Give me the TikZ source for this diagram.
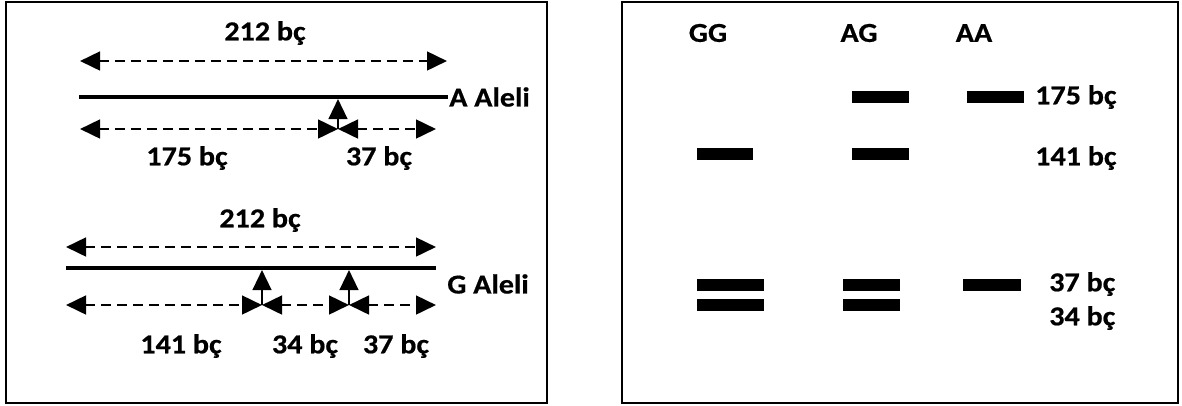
\documentclass[tikz,border=0pt]{standalone}
\usepackage{fontspec}
\setmainfont{Carlito}[FakeStretch=1.1, BoldFeatures={FakeBold=0.6}]
\usepackage{tikz}
\usetikzlibrary{arrows.meta}
\usetikzlibrary{positioning}
\tikzset{head/.tip={Triangle[length=15pt,width=14pt]},
  lbl/.style={font=\bfseries\fontsize{20.5}{24}\selectfont, inner sep=0pt},
  dna/.style={line width=3pt},
  dim/.style={head-head, line width=2pt, dash pattern=on 7pt off 5pt},
  cut/.style={-head, line width=1.8pt},
  frame/.style={line width=1.2pt},
  band/.style={fill=black}}

\begin{document}
\begin{tikzpicture}[x=0.75pt,y=-0.75pt]

    \useasboundingbox (0,0) rectangle (1182,405);

    % two panels
    \draw [frame] (6,2) rectangle (547,403);
    \draw [frame] (622,2) rectangle (1178,403);

    % A allele
    \coordinate (a1) at (79,97);
    \coordinate (a2) at (448,97);
    \coordinate (acut) at (338,99);
    \coordinate (ad0) at (80,129);
    \coordinate (ad1) at (338,129);
    \coordinate (ad2) at (436,129);

	\draw [dna] (a1) -- (a2);
	\draw [dim] (80,61) coordinate (at0) -- (447,61) coordinate (at1);
	\draw [dim] (ad0) -- (ad1);
	\draw [dim] (ad1) -- (ad2);
	\draw [cut] (ad1) -- (acut);

	\node [lbl] (a212) at (265,33) {212 bç};
	\node [lbl, anchor=west] (aname) at (449,97) {A Aleli};
	\node [lbl] (a175) at (187,158) {175 bç};
	\node [lbl] (a37) at (379,158) {37 bç};

    % G allele
    \coordinate (g1) at (66,268);
    \coordinate (g2) at (436,268);
    \coordinate (gcut1) at (262,270);
    \coordinate (gcut2) at (349,270);
    \coordinate (gd0) at (66,305);
    \coordinate (gd1) at (262,305);
    \coordinate (gd2) at (349,305);
    \coordinate (gd3) at (436,305);

	\draw [dna] (g1) -- (g2);
	\draw [dim] (66,247) coordinate (gt0) -- (436,247) coordinate (gt1);
	\draw [dim] (gd0) -- (gd1);
	\draw [dim] (gd1) -- (gd2);
	\draw [dim] (gd2) -- (gd3);
	\draw [cut] (gd1) -- (gcut1);
	\draw [cut] (gd2) -- (gcut2);

	\node [lbl] (g212) at (260,220) {212 bç};
	\node [lbl, anchor=west] (gname) at (447,284) {G Aleli};
	\node [lbl] (g141) at (181,346) {141 bç};
	\node [lbl] (g34) at (305,346) {34 bç};
	\node [lbl] (g37) at (396,346) {37 bç};

    % gel lanes
	\node [lbl] (GG) at (708,33) {GG};
	\node [lbl] (AG) at (859,33) {AG};
	\node [lbl] (AA) at (974,33) {AA};

	\fill [band] (852,91) rectangle (909,103);
	\fill [band] (967,91) rectangle (1024,103);
	\fill [band] (697,148) rectangle (753,160);
	\fill [band] (852,148) rectangle (909,160);
	\fill [band] (697,279) rectangle (764,291);
	\fill [band] (843,279) rectangle (900,291);
	\fill [band] (963,279) rectangle (1021,291);
	\fill [band] (697,299) rectangle (764,311);
	\fill [band] (843,299) rectangle (900,311);

	\node [lbl, anchor=west] (s175) at (1035,97) {175 bç};
	\node [lbl, anchor=west] (s141) at (1035,158) {141 bç};
	\node [lbl, anchor=west] (s37) at (1049,284) {37 bç};
	\node [lbl, anchor=west] (s34) at (1049,318) {34 bç};

\end{tikzpicture}
\end{document}
